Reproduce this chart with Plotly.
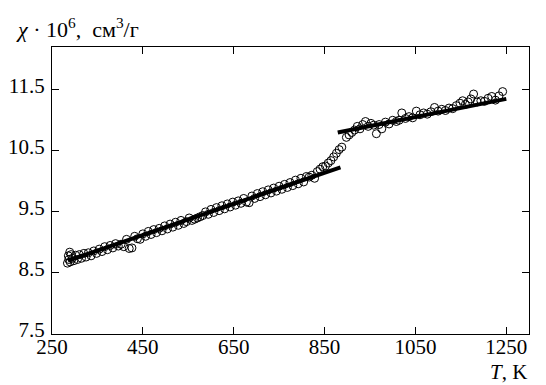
import plotly.graph_objects as go

# measured points, segment 1 (below transition)
T1 = [284, 286, 287, 289, 290, 292, 295, 298, 302, 306, 310, 315, 320, 325, 330, 336, 342, 348, 354, 360,
      366, 372, 378, 384, 390, 396, 402, 408, 414, 420, 426, 432, 438, 444, 450, 456, 462, 468, 474, 480,
      486, 492, 498, 504, 510, 516, 522, 528, 534, 540, 546, 552, 558, 564, 570, 576, 582, 588, 594, 600,
      606, 612, 618, 624, 630, 636, 642, 648, 654, 660, 666, 672, 678, 684, 690, 696, 702, 708, 714, 720,
      726, 732, 738, 744, 750, 756, 762, 768, 774, 780, 786, 792, 798, 804, 810, 816, 822, 828, 834, 840, 846]
chi1 = [8.66, 8.78, 8.72, 8.84, 8.68, 8.80, 8.74, 8.70, 8.79, 8.72, 8.80, 8.74, 8.82, 8.76, 8.83, 8.78, 8.86, 8.82, 8.89, 8.85,
        8.93, 8.88, 8.95, 8.91, 8.98, 8.94, 8.97, 8.93, 9.05, 8.90, 8.91, 9.10, 9.06, 9.05, 9.14, 9.10, 9.18, 9.13, 9.21, 9.16,
        9.23, 9.19, 9.27, 9.22, 9.30, 9.25, 9.33, 9.28, 9.36, 9.31, 9.34, 9.40, 9.36, 9.38, 9.40, 9.42, 9.44, 9.50, 9.46, 9.54,
        9.49, 9.57, 9.52, 9.60, 9.55, 9.63, 9.58, 9.66, 9.61, 9.68, 9.64, 9.72, 9.66, 9.65, 9.76, 9.72, 9.80, 9.75, 9.83, 9.78,
        9.86, 9.81, 9.89, 9.84, 9.92, 9.87, 9.95, 9.90, 9.98, 9.93, 10.02, 9.96, 10.05, 9.99, 10.08, 10.07, 10.10, 10.05, 10.16, 10.20, 10.24]

# transition region
Tt = [852, 858, 864, 870, 876, 882, 888, 898, 904, 910]
chit = [10.25, 10.30, 10.34, 10.40, 10.46, 10.52, 10.56, 10.72, 10.76, 10.80]

# segment 2 (above transition)
T2 = [916, 922, 928, 934, 940, 946, 952, 958, 964, 970, 976, 984, 992, 1000, 1008, 1014, 1020, 1028, 1036, 1044,
      1052, 1060, 1068, 1076, 1084, 1092, 1100, 1108, 1116, 1124, 1132, 1140, 1148, 1154, 1160, 1166, 1172, 1178,
      1186, 1194, 1202, 1210, 1218, 1226, 1234, 1242]
chi2 = [10.84, 10.90, 10.86, 10.93, 10.98, 10.90, 10.95, 10.92, 10.78, 10.93, 10.86, 10.97, 10.94, 11.00, 10.98, 11.00,
        11.12, 11.03, 11.06, 11.04, 11.15, 11.09, 11.12, 11.10, 11.14, 11.21, 11.15, 11.18, 11.16, 11.20, 11.19, 11.24,
        11.28, 11.32, 11.26, 11.30, 11.35, 11.43, 11.30, 11.32, 11.31, 11.36, 11.39, 11.33, 11.40, 11.47]

# linear fits
fit1_T = [285, 885]
fit1_chi = [8.70, 10.23]
fit2_T = [879, 1250]
fit2_chi = [10.80, 11.35]

x_ticks = [250, 450, 650, 850, 1050, 1250]
y_ticks = [7.5, 8.5, 9.5, 10.5, 11.5]

FONT = "Liberation Serif, serif"

fig = go.Figure()
for fx, fy in [(fit1_T, fit1_chi), (fit2_T, fit2_chi)]:
    fig.add_trace(go.Scatter(x=fx, y=fy, mode="lines",
                             line=dict(color="black", width=4), showlegend=False))
fig.add_trace(go.Scatter(x=T1 + Tt + T2, y=chi1 + chit + chi2, mode="markers",
                         marker=dict(symbol="circle-open", size=8, color="black",
                                     line=dict(width=1, color="black")),
                         showlegend=False))

axis_common = dict(showline=True, linecolor="black", linewidth=1, mirror="ticks",
                   ticks="inside", ticklen=7, tickwidth=1, tickcolor="black",
                   showgrid=False, zeroline=False, automargin=False,
                   tickfont=dict(family=FONT, size=21, color="black"))

fig.update_xaxes(range=[250, 1300], tickvals=x_ticks, ticktext=[str(v) for v in x_ticks],
                 ticklabelstandoff=-6, **axis_common)
fig.update_yaxes(range=[7.5, 12.2], tickvals=y_ticks, ticktext=[f"{v:.1f}" for v in y_ticks],
                 ticklabelstandoff=2, ticklabelshift=-4, **axis_common)

fig.add_annotation(text="<i>χ</i> · 10<sup>6</sup>,&nbsp;&nbsp;см<sup>3</sup>/г", xref="paper", yref="paper",
                   x=-0.079, y=1.066, xanchor="left", yanchor="middle", showarrow=False,
                   font=dict(family=FONT, size=22, color="black"))
fig.add_annotation(text="<i>T</i>, K", xref="paper", yref="paper",
                   x=1.0, y=-0.132, xanchor="right", yanchor="middle", showarrow=False,
                   font=dict(family=FONT, size=21, color="black"))

# page body has an 8px default margin: figure is sized/margined to compensate
fig.update_layout(template="none", width=538, height=377, margin=dict(l=44, r=17, t=39, b=51),
                  plot_bgcolor="white", paper_bgcolor="white",
                  font=dict(family=FONT, size=21, color="black"))

fig.write_html("out.html")
